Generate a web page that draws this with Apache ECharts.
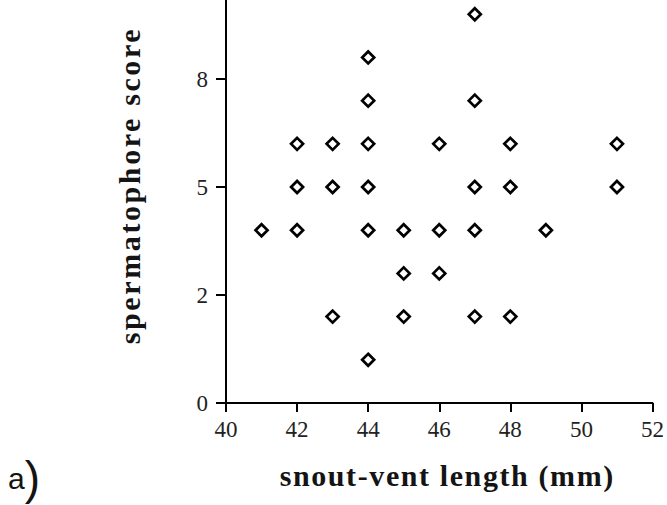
<!DOCTYPE html>
<html><head><meta charset="utf-8">
<script src="https://cdn.jsdelivr.net/npm/echarts@6/dist/echarts.min.js"></script>
<style>html,body{margin:0;padding:0;background:#fff}#c{width:667px;height:505px}</style>
</head><body><div id="c"></div>
<script>
const snoutVentLength = [41,42,42,42,43,43,43,44,44,44,44,44,44,45,45,45,46,46,46,47,47,47,47,47,48,48,48,49,51,51];
const spermatophoreScore = [4,6,5,4,6,5,2,8,7,6,5,4,1,4,3,2,6,4,3,9,7,5,4,2,6,5,2,4,6,5];
const xTickLabels = ['40','42','44','46','48','50','52'];
const yTickValues = [0,2.5,5,7.5];
const yTickLabels = ['0','2','5','8'];
const xTitle = 'snout-vent length (mm)';
const yTitle = 'spermatophore score';
const panelLabel = 'a)';

const points = snoutVentLength.map((x, i) => [x, spermatophoreScore[i]]);
const serif = 'Liberation Serif';
const ink = '#141414';

const chart = echarts.init(document.getElementById('c'), null, {renderer: 'svg'});
chart.setOption({
  animation: false,
  backgroundColor: '#fff',
  grid: {left: 226, right: 11, top: 0, bottom: 102, containLabel: false},
  xAxis: {
    type: 'value', min: 40, max: 52, interval: 2,
    axisLine: {lineStyle: {color: '#000', width: 2}},
    axisTick: {length: 9, lineStyle: {color: '#000', width: 2}},
    axisLabel: {color: '#222', fontFamily: serif, fontSize: 23, margin: 15,
      formatter: (v, i) => xTickLabels[i]},
    splitLine: {show: false},
    name: xTitle, nameLocation: 'middle', nameGap: 57,
    nameTextStyle: {fontFamily: serif, fontWeight: 'bold', fontSize: 30, color: ink, padding: [0, 0, 0, 16]}
  },
  yAxis: {
    type: 'value', min: 0, max: 9.33,
    axisLine: {lineStyle: {color: '#000', width: 2}},
    axisTick: {length: 10, customValues: yTickValues, lineStyle: {color: '#000', width: 2}},
    axisLabel: {color: '#222', fontFamily: serif, fontSize: 23, margin: 18,
      customValues: yTickValues,
      formatter: (v) => { const k = yTickValues.indexOf(v); return k >= 0 ? yTickLabels[k] : ''; }},
    splitLine: {show: false},
    name: yTitle, nameLocation: 'middle', nameGap: 82,
    nameTextStyle: {fontFamily: serif, fontWeight: 'bold', fontSize: 30, color: ink, padding: [0, 0, 0, 32]}
  },
  graphic: [{
    type: 'text', left: 8, top: 455,
    style: {
      text: '{a|a}{p|)}',
      rich: {
        a: {fontFamily: 'Liberation Sans', fontSize: 30, fill: ink},
        p: {fontFamily: 'Liberation Sans', fontSize: 46, fill: ink, fontWeight: 'lighter'}
      }
    }
  }],
  series: [{
    type: 'scatter', data: points,
    symbol: 'diamond', symbolSize: 12,
    itemStyle: {color: '#fff', borderColor: '#000', borderWidth: 2.7, opacity: 1}
  }]
});
document.querySelectorAll('#c text').forEach(t => {
  if (t.textContent === xTitle) t.setAttribute('letter-spacing', '1.6');
  if (t.textContent === yTitle) t.setAttribute('letter-spacing', '2.6');
});
</script></body></html>
